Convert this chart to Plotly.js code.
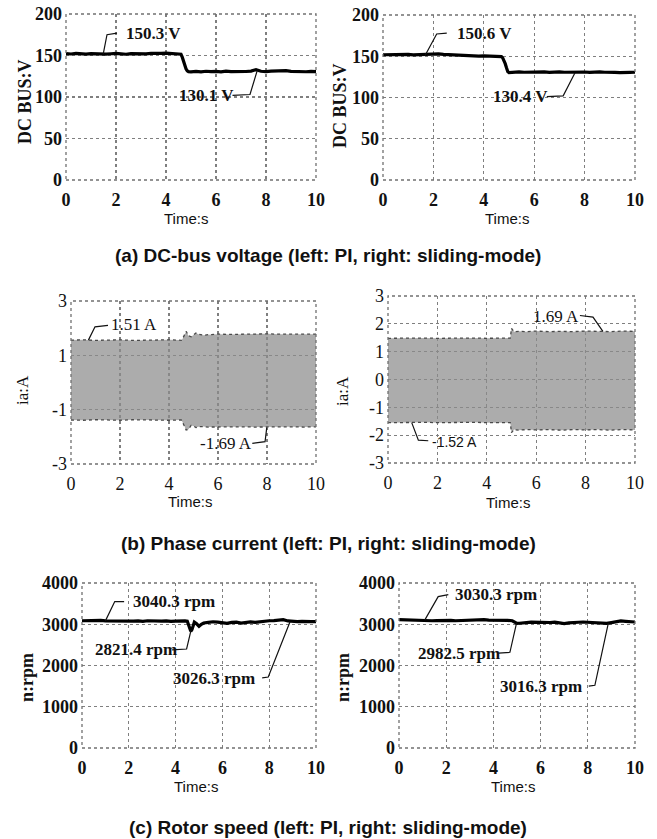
<!DOCTYPE html>
<html>
<head>
<meta charset="utf-8">
<script src="https://cdn.plot.ly/plotly-3.0.1.min.js"></script>
<style>html,body{margin:0;padding:0;background:#fff;}#chart{width:657px;height:839px;}</style>
</head>
<body>
<div id="chart"></div>
<script>
// ---------- DATA ----------
// (a) DC-bus voltage, V
const tVoltPI = [0,0.2,0.4,0.6,0.8,1.0,1.2,1.4,1.6,1.8,2.0,2.2,2.4,2.6,2.8,3.0,3.2,3.4,3.6,3.8,4.0,4.2,4.4,4.6,
  4.65,4.7,4.75,4.8,4.85,4.9,5.0,
  5.2,5.4,5.6,5.8,6.0,6.2,6.4,6.6,6.8,7.0,7.2,7.4,7.6,7.8,8.0,8.2,8.4,8.6,8.8,9.0,9.2,9.4,9.6,9.8,10];
const voltPI = [152.3,151.8,152.5,152.0,151.6,152.2,151.9,152.4,151.7,152.1,152.6,152.0,151.5,152.3,151.9,152.2,152.0,152.5,153.0,152.6,152.8,152.2,152.0,151.5,
  148,143,138,134,131.5,130.5,130.2,
  130.8,130.3,131.0,130.5,130.9,130.2,131.1,130.6,130.4,131.0,130.7,131.2,133.0,131.0,130.6,131.2,131.6,132.2,131.8,130.9,130.5,131.0,130.4,130.8,130.5];
const tVoltSMC = [0,0.2,0.4,0.6,0.8,1.0,1.2,1.4,1.6,1.8,2.0,2.2,2.4,2.6,2.8,3.0,3.2,3.4,3.6,3.8,4.0,4.2,4.4,4.6,
  4.7,4.75,4.8,4.85,4.9,4.95,5.0,
  5.2,5.4,5.6,5.8,6.0,6.2,6.4,6.6,6.8,7.0,7.2,7.4,7.6,7.8,8.0,8.2,8.4,8.6,8.8,9.0,9.2,9.4,9.6,9.8,10];
const voltSMC = [151.8,152.0,151.6,152.1,151.9,152.2,151.7,152.0,152.4,152.3,152.6,152.8,152.2,151.8,151.4,151.0,150.6,150.3,150.5,150.2,150.4,150.1,150.0,149.8,
  149.5,148,145,141,136,131.5,130.2,
  130.8,131.0,130.6,130.9,131.2,130.7,131.0,130.5,130.9,131.1,130.6,130.8,131.0,130.7,130.9,130.4,130.8,131.0,130.6,130.9,130.5,130.2,130.7,130.4,130.6];

// (b) Phase current envelopes, A
const tCurPI = [0,0.5,1.0,1.5,2.0,2.5,3.0,3.5,4.0,4.4,4.5,4.55,4.6,4.65,4.7,4.8,4.9,5.0,5.1,5.2,5.4,5.6,6.0,6.5,7.0,7.5,8.0,8.5,9.0,9.5,10];
const curPIUpper = [1.56,1.57,1.55,1.56,1.57,1.55,1.56,1.56,1.57,1.56,1.55,1.60,1.68,1.80,1.88,1.72,1.68,1.75,1.82,1.78,1.74,1.76,1.78,1.77,1.78,1.77,1.79,1.78,1.77,1.78,1.78];
const curPILower = [-1.38,-1.39,-1.37,-1.38,-1.39,-1.37,-1.38,-1.38,-1.39,-1.38,-1.38,-1.45,-1.55,-1.68,-1.75,-1.72,-1.58,-1.60,-1.66,-1.63,-1.62,-1.64,-1.63,-1.64,-1.63,-1.64,-1.63,-1.64,-1.63,-1.64,-1.63];
const tCurSMC = [0,0.5,1,1.5,2,2.5,3,3.5,4,4.5,4.95,5.0,5.05,5.1,5.3,5.6,6,6.5,7,7.5,8,8.5,9,9.5,10];
const curSMCUpper = [1.48,1.49,1.48,1.49,1.48,1.49,1.48,1.49,1.48,1.49,1.49,1.84,1.76,1.72,1.73,1.72,1.74,1.72,1.73,1.72,1.74,1.73,1.72,1.74,1.73];
const curSMCLower = [-1.55,-1.54,-1.55,-1.54,-1.55,-1.54,-1.55,-1.54,-1.55,-1.54,-1.55,-1.91,-1.84,-1.80,-1.82,-1.80,-1.81,-1.80,-1.82,-1.80,-1.81,-1.80,-1.82,-1.80,-1.81];

// (c) Rotor speed, rpm
const tSpdPI = [0,0.2,0.4,0.6,0.8,1.0,1.2,1.4,1.6,1.8,2.0,2.2,2.4,2.6,2.8,3.0,3.2,3.4,3.6,3.8,4.0,4.2,4.4,
  4.5,4.55,4.6,4.65,4.7,4.75,4.8,4.9,5.0,5.1,5.2,
  5.4,5.6,5.8,6.0,6.2,6.4,6.6,6.8,7.0,7.2,7.4,7.6,7.8,8.0,8.2,8.4,8.6,8.8,9.0,9.2,9.4,9.6,9.8,10];
const spdPI = [3085,3090,3080,3088,3095,3082,3078,3090,3085,3070,3060,3075,3080,3072,3085,3078,3080,3075,3082,3070,3078,3085,3080,
  3075,3000,2880,2830,2870,2990,3050,3010,2950,3000,3030,
  3045,3060,3050,3030,3020,3045,3050,3030,3040,3055,3045,3060,3080,3085,3090,3100,3110,3080,3070,3065,3070,3060,3065,3062];
const tSpdSMC = [0,0.2,0.4,0.6,0.8,1.0,1.2,1.4,1.6,1.8,2.0,2.2,2.4,2.6,2.8,3.0,3.2,3.4,3.6,3.8,4.0,4.2,4.4,4.6,4.8,
  4.9,5.0,5.1,5.2,
  5.4,5.6,5.8,6.0,6.2,6.4,6.6,6.8,7.0,7.2,7.4,7.6,7.8,8.0,8.2,8.4,8.6,8.8,9.0,9.2,9.4,9.6,9.8,10];
const spdSMC = [3110,3105,3100,3095,3090,3098,3092,3085,3090,3095,3088,3092,3085,3090,3095,3088,3092,3100,3110,3098,3100,3095,3098,3092,3085,
  3060,3020,3025,3035,
  3040,3050,3045,3055,3048,3042,3050,3030,3015,3035,3050,3048,3055,3045,3050,3040,3025,3020,3040,3065,3080,3070,3060,3055];

const xTicks = [0,2,4,6,8,10];
const captions = ["(a) DC-bus voltage (left: PI, right: sliding-mode)",
                  "(b) Phase current (left: PI, right: sliding-mode)",
                  "(c) Rotor speed (left: PI, right: sliding-mode)"];

// ---------- LAYOUT HELPERS ----------
const W = 657, H = 839;
const SERIF = "Liberation Serif, Times New Roman, serif";
const SANS = "Liberation Sans, Arial, sans-serif";
const px = (a, b) => [a / W, b / W];
const py = (top, bottom) => [1 - bottom / H, 1 - top / H];
const pxp = v => v / W, pyp = v => 1 - v / H;

function xAxis(dom, anchor, fsize, wt) {
  return {domain: dom, anchor: anchor, range: [0, 10], tickvals: xTicks, ticktext: xTicks.map(String),
    showgrid: true, griddash: 'dot', gridcolor: '#7f7f7f', gridwidth: 1.3, zeroline: false, showline: false,
    ticks: '', ticklabelstandoff: 7, tickfont: {family: SERIF, size: fsize, color: '#111', weight: wt}, fixedrange: true};
}
function yAxis(dom, anchor, range, tv, fsize, wt) {
  return {domain: dom, anchor: anchor, range: range, tickvals: tv, ticktext: tv.map(String),
    showgrid: true, griddash: 'dot', gridcolor: '#7f7f7f', gridwidth: 1.3, zeroline: false, showline: false,
    ticks: '', ticklabelstandoff: 3, tickfont: {family: SERIF, size: fsize, color: '#111', weight: wt}, fixedrange: true};
}

const layout = {
  width: W, height: H, margin: {l: 0, r: 0, t: 0, b: 0}, paper_bgcolor: '#fff', plot_bgcolor: '#fff',
  showlegend: false,
  xaxis:  xAxis(px(66, 316), 'y', 18, 'bold'),
  yaxis:  yAxis(py(14, 180), 'x', [0, 200], [0, 50, 100, 150, 200], 18, 'bold'),
  xaxis2: xAxis(px(383, 635), 'y2', 18, 'bold'),
  yaxis2: yAxis(py(15, 180), 'x2', [0, 200], [0, 50, 100, 150, 200], 18, 'bold'),
  xaxis3: xAxis(px(71, 316), 'y3', 18, 'normal'),
  yaxis3: yAxis(py(301, 464), 'x3', [-3, 3], [-3, -1, 1, 3], 18, 'normal'),
  xaxis4: xAxis(px(388, 635), 'y4', 18, 'normal'),
  yaxis4: yAxis(py(296, 463), 'x4', [-3, 3], [-3, -2, -1, 0, 1, 2, 3], 18, 'normal'),
  xaxis5: xAxis(px(82, 316), 'y5', 18, 'bold'),
  yaxis5: yAxis(py(583, 748), 'x5', [0, 4000], [0, 1000, 2000, 3000, 4000], 18, 'bold'),
  xaxis6: xAxis(px(399, 635), 'y6', 18, 'bold'),
  yaxis6: yAxis(py(583, 748), 'x6', [0, 4000], [0, 1000, 2000, 3000, 4000], 18, 'bold'),
  shapes: [], annotations: []
};

// dotted frames
['', '2', '3', '4', '5', '6'].forEach(s => {
  layout.shapes.push({type: 'rect', xref: 'x' + s + ' domain', yref: 'y' + s + ' domain', x0: 0, x1: 1, y0: 0, y1: 1,
    line: {color: '#707070', width: 1.3, dash: 'dot'}, layer: 'above'});
});

// ---------- TRACES ----------
const traces = [];
function line(x, y, xa, ya) {
  traces.push({type: 'scatter', mode: 'lines', x: x, y: y, xaxis: xa, yaxis: ya,
    line: {color: '#000', width: 3.2}, hoverinfo: 'skip'});
}
function band(x, up, lo, xa, ya) {
  traces.push({type: 'scatter', mode: 'lines', x: x, y: lo, xaxis: xa, yaxis: ya,
    line: {color: '#4a4a4a', width: 1.3, dash: 'dot'}, hoverinfo: 'skip'});
  traces.push({type: 'scatter', mode: 'lines', x: x, y: up, xaxis: xa, yaxis: ya, fill: 'tonexty',
    fillcolor: 'rgba(140,140,140,0.72)', line: {color: '#4a4a4a', width: 1.3, dash: 'dot'}, hoverinfo: 'skip'});
}
line(tVoltPI, voltPI, 'x', 'y');
line(tVoltSMC, voltSMC, 'x2', 'y2');
band(tCurPI, curPIUpper, curPILower, 'x3', 'y3');
band(tCurSMC, curSMCUpper, curSMCLower, 'x4', 'y4');
line(tSpdPI, spdPI, 'x5', 'y5');
line(tSpdSMC, spdSMC, 'x6', 'y6');

// ---------- LABELS WITH LEADER LINES ----------
function label(s, text, x, y, pts, font) {
  layout.annotations.push({xref: 'x' + s, yref: 'y' + s, x: x, y: y, text: text, showarrow: false,
    xanchor: 'left', yanchor: 'middle', font: font});
  const path = 'M ' + pts.map(p => p[0] + ',' + p[1]).join(' L ');
  layout.shapes.push({type: 'path', xref: 'x' + s, yref: 'y' + s, path: path, line: {color: '#111', width: 1.2}});
}
const fl = {family: SERIF, size: 17, color: '#111', weight: 'bold'};
const fb = {family: SERIF, size: 17, color: '#111'};
label('', '150.3 V', 2.3, 177, [[1.49, 152], [1.64, 175], [2.04, 177]], fl);
label('', '130.1 V', 4.45, 102, [[6.66, 102], [7.36, 103], [7.64, 131]], fl);
label('2', '150.6 V', 2.85, 178, [[1.67, 151], [2.13, 177], [2.53, 178]], fl);
label('2', '130.4 V', 4.3, 101, [[6.5, 101], [7.15, 102], [7.62, 130]], fl);
label('3', '1.51 A', 1.55, 2.12, [[0.71, 1.56], [0.98, 2.05], [1.51, 2.1]], fb);
label('3', '-1.69 A', 5.2, -2.24, [[7.4, -2.24], [7.92, -2.18], [7.99, -1.66]], fb);
label('4', '1.69 A', 5.8, 2.27, [[7.77, 2.3], [8.3, 2.24], [8.7, 1.73]], fb);
label('4', '-1.52 A', 1.68, -2.24, [[0.96, -1.55], [1.23, -2.18], [1.63, -2.2]], {family: SANS, size: 14, color: '#111'});
label('5', '3040.3 rpm', 2.1, 3550, [[1.0, 3082], [1.4, 3550], [1.8, 3550]], fl);
label('5', '2821.4 rpm', 0.45, 2380, [[3.85, 2380], [4.47, 2400], [4.66, 2860]], fl);
label('5', '3026.3 rpm', 3.8, 1694, [[7.7, 1700], [7.96, 1720], [8.89, 3062]], fl);
label('6', '3030.3 rpm', 2.3, 3710, [[1.09, 3100], [1.66, 3670], [2.09, 3720]], fl);
label('6', '2982.5 rpm', 0.72, 2300, [[4.22, 2300], [4.7, 2320], [4.98, 3025]], fl);
label('6', '3016.3 rpm', 4.2, 1490, [[8.04, 1500], [8.3, 1520], [8.87, 3025]], fl);

// ---------- AXIS TITLES & CAPTIONS ----------
function ptext(text, x, y, font, angle) {
  layout.annotations.push({xref: 'paper', yref: 'paper', x: pxp(x), y: pyp(y), text: text, showarrow: false,
    xanchor: 'center', yanchor: 'middle', textangle: angle || 0, font: font});
}
const fy = {family: SERIF, size: 18, color: '#111', weight: 'bold'};
const fyb = {family: SERIF, size: 17, color: '#111'};
const ft = {family: SANS, size: 15, color: '#111'};
ptext('DC BUS:V', 25, 102, fy, -90);
ptext('DC BUS:V', 340, 106, fy, -90);
ptext('ia:A', 22, 390, fyb, -90);
ptext('ia:A', 342, 391, fyb, -90);
ptext('n:rpm', 27, 678, fy, -90);
ptext('n:rpm', 343, 678, fy, -90);
ptext('Time:s', 186, 218, ft);
ptext('Time:s', 507, 218, ft);
ptext('Time:s', 190, 501, ft);
ptext('Time:s', 508, 502, ft);
ptext('Time:s', 196, 786, ft);
ptext('Time:s', 513, 786, ft);
const fc = {family: SANS, size: 19, color: '#111', weight: 'bold'};
ptext(captions[0], 328, 255, fc);
ptext(captions[1], 328, 543, fc);
ptext(captions[2], 328, 827, fc);

Plotly.newPlot('chart', traces, layout, {displayModeBar: false, staticPlot: true});
</script>
</body>
</html>
